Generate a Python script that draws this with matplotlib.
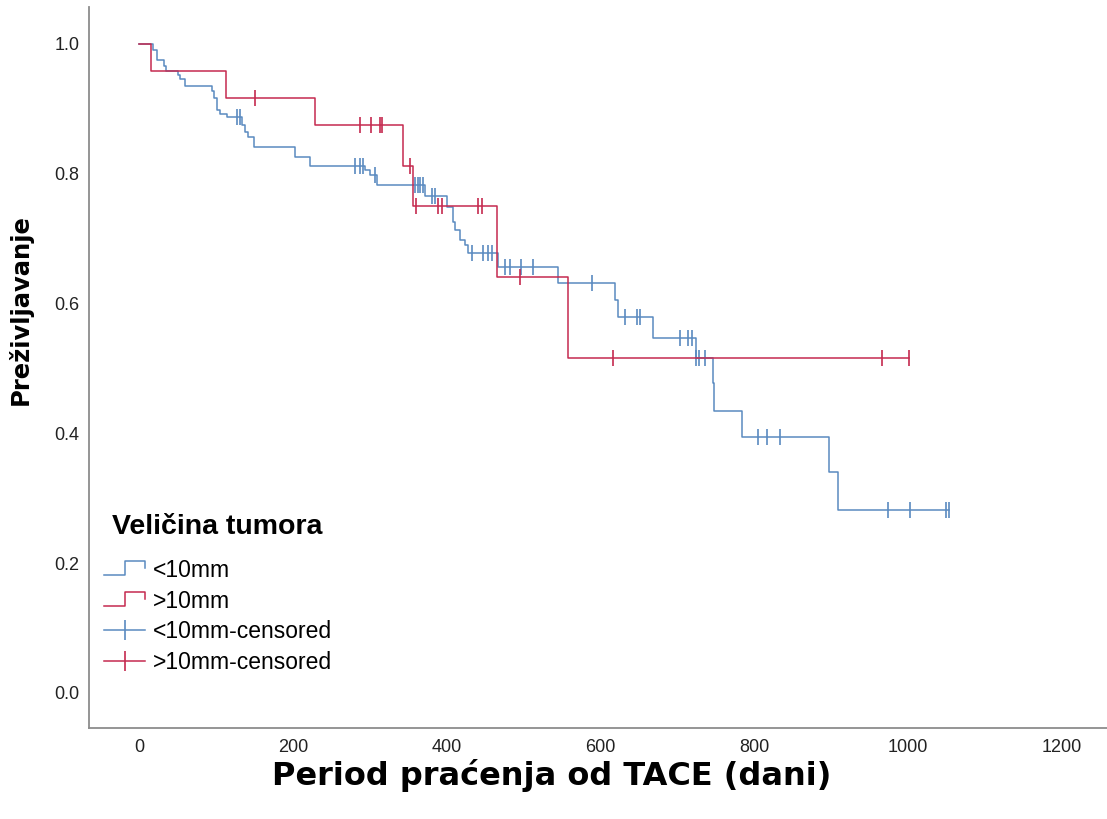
import numpy as np
import matplotlib
matplotlib.use("Agg")
import matplotlib.pyplot as plt
from matplotlib.lines import Line2D
from matplotlib.legend_handler import HandlerBase

# <10mm group: event times (days) and survival after each step
blue_times = [0, 18, 24, 32, 35, 51, 53, 60, 95, 98, 102, 105, 114, 134, 138, 142,
              150, 203, 222, 294, 300, 309, 372, 400, 408, 411, 417, 424, 428, 467,
              545, 619, 623, 669, 724, 746, 748, 784, 898, 909]
blue_surv = [1.0, 0.990, 0.976, 0.966, 0.959, 0.952, 0.946, 0.935, 0.927, 0.917,
             0.898, 0.892, 0.888, 0.875, 0.864, 0.857, 0.841, 0.826, 0.812, 0.806,
             0.798, 0.783, 0.766, 0.749, 0.726, 0.713, 0.698, 0.690, 0.678, 0.656,
             0.632, 0.606, 0.579, 0.547, 0.516, 0.478, 0.435, 0.394, 0.340, 0.282]
blue_censored = [127, 131, 281, 287, 291, 307, 359, 363, 365, 369, 381, 385, 433, 447,
                 454, 459, 476, 482, 497, 513, 589, 632, 648, 652, 703, 714, 719, 725,
                 729, 736, 805, 817, 834, 974, 1003, 1049, 1053]

# >10mm group
red_times = [0, 16, 113, 229, 343, 356, 466, 558]
red_surv = [1.0, 0.958, 0.917, 0.875, 0.812, 0.750, 0.641, 0.516]
red_censored = [151, 287, 302, 313, 316, 352, 360, 389, 394, 441, 446, 495, 617, 967, 1001]

x_ticks = [0, 200, 400, 600, 800, 1000, 1200]
y_ticks = [0.0, 0.2, 0.4, 0.6, 0.8, 1.0]
legend_labels = ["<10mm", ">10mm", "<10mm-censored", ">10mm-censored"]

BLUE = "#5a8ac0"
RED = "#c52a4f"


def surv_at(times, surv, t):
    idx = np.searchsorted(times, t, side="right") - 1
    return np.asarray(surv)[idx]


class StepHandler(HandlerBase):
    def create_artists(self, legend, orig_handle, xdescent, ydescent,
                       width, height, fontsize, trans):
        x0, y0 = -xdescent, -ydescent
        xs = [x0, x0 + 0.5 * width, x0 + 0.5 * width, x0 + width, x0 + width]
        ys = [y0 + 0.1 * height, y0 + 0.1 * height, y0 + 1.0 * height,
              y0 + 1.0 * height, y0 + 0.55 * height]
        ln = Line2D(xs, ys, color=orig_handle.get_color(),
                    lw=orig_handle.get_linewidth(), transform=trans)
        return [ln]


fig = plt.figure(figsize=(11.07, 8.19), dpi=100)
ax = fig.add_axes([89 / 1107, 91 / 819, 1 - 89 / 1107, 721 / 819])

lw = 1.1
for times, surv, cens, end, color in [
    (blue_times, blue_surv, blue_censored, max(blue_censored), BLUE),
    (red_times, red_surv, red_censored, max(red_censored), RED),
]:
    xs = list(times) + [end]
    ys = list(surv) + [surv[-1]]
    ax.step(xs, ys, where="post", color=color, lw=lw)
    ax.plot(cens, surv_at(times, surv, cens), ls="none", marker="|",
            markersize=11, mew=1.2, color=color)

ax.set_xlim(-65, 1259)
ax.set_ylim(-0.054, 1.057)
ax.set_xticks(x_ticks)
ax.set_yticks(y_ticks)
ax.set_yticklabels([f"{v:.1f}" for v in y_ticks])
for s in ["top", "right"]:
    ax.spines[s].set_visible(False)
for s in ["left", "bottom"]:
    ax.spines[s].set_color("#8c8c8c")
    ax.spines[s].set_linewidth(1.3)
ax.tick_params(length=0, labelsize=13, labelcolor="#222222")
ax.tick_params(axis="y", pad=7)
ax.tick_params(axis="x", pad=8)
for lab in ax.get_xticklabels() + ax.get_yticklabels():
    lab.set_family("Liberation Sans")

fig.text(552 / 1107, 1 - 775 / 819, "Period praćenja od TACE (dani)",
         ha="center", va="center", fontsize=23, fontweight="bold", family="DejaVu Sans")
fig.text(20 / 1107, 1 - 310 / 819, "Preživljavanje", rotation=90,
         ha="center", va="center", fontsize=17.5, fontweight="bold", family="DejaVu Sans")

# legend title drawn on its own so its gap to the entries can match
fig.text(112 / 1107, 1 - 527 / 819, "Veličina tumora", ha="left", va="center",
         fontsize=20.5, fontweight="bold", family="Liberation Sans")

handles = [
    Line2D([], [], color=BLUE, lw=lw),
    Line2D([], [], color=RED, lw=lw),
    Line2D([], [], color=BLUE, lw=lw, marker="|", markersize=15, mew=1.2),
    Line2D([], [], color=RED, lw=lw, marker="|", markersize=15, mew=1.2),
]
leg = ax.legend(handles, legend_labels, loc="upper left",
                bbox_to_anchor=(104 / 1107, 1 - 559 / 819),
                bbox_transform=fig.transFigure, frameon=False,
                prop={"family": "Liberation Sans", "size": 16.5},
                handler_map={handles[0]: StepHandler(), handles[1]: StepHandler()},
                handlelength=1.8, handletextpad=0.35, labelspacing=0.33,
                borderaxespad=0, borderpad=0)

fig.savefig("out.png", dpi=100)
